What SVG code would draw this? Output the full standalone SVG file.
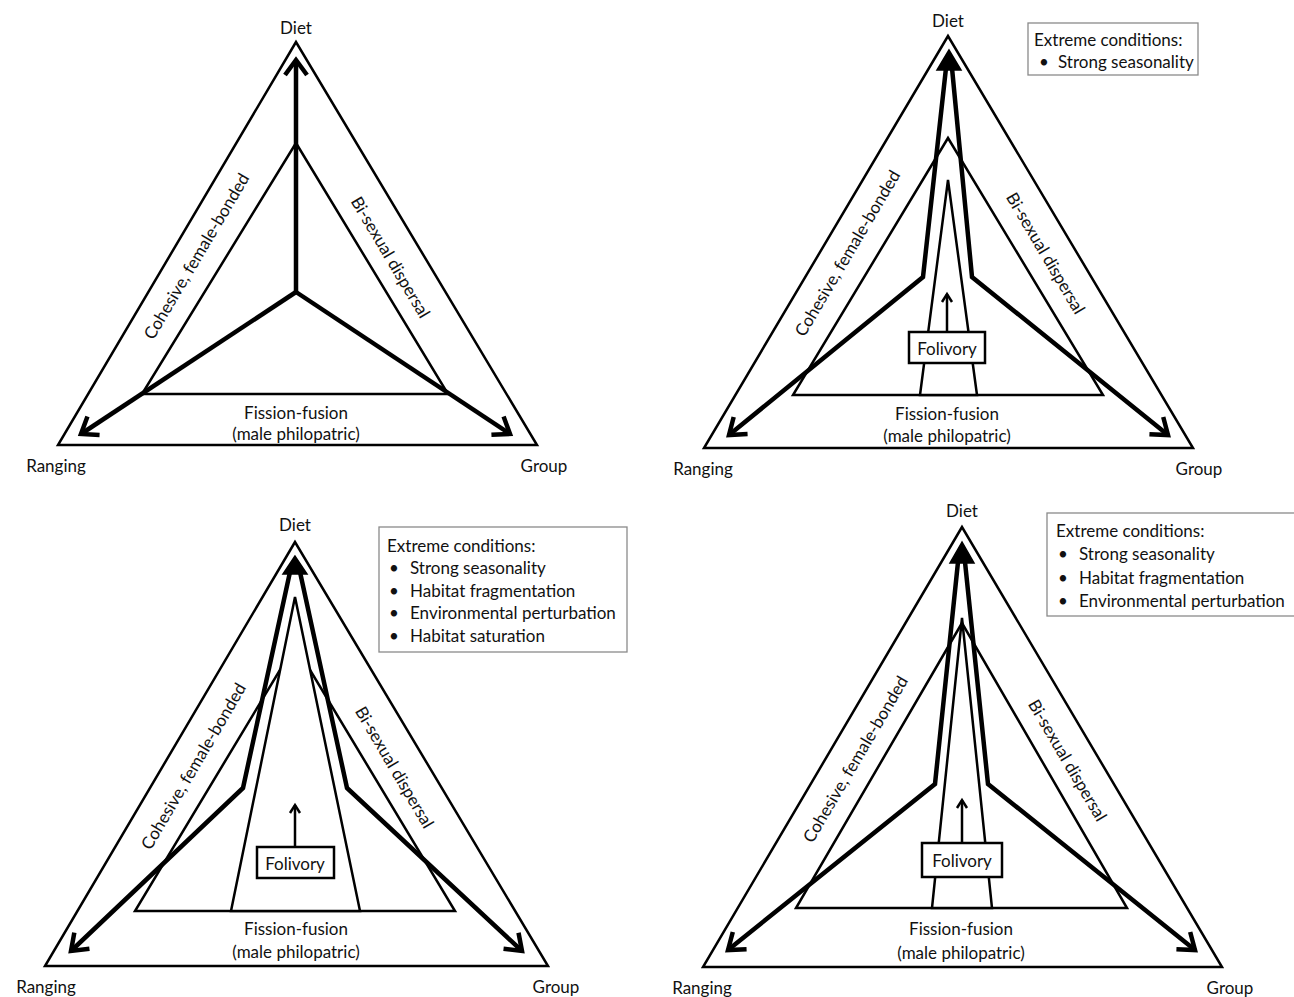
<svg xmlns="http://www.w3.org/2000/svg" width="1294" height="997" viewBox="0 0 1294 997">
<style>
text{font-family:Lato,"Open Sans","Liberation Sans",sans-serif;font-size:17px;fill:#111;}
.c{text-anchor:middle;dominant-baseline:central;}
.l{text-anchor:start;dominant-baseline:central;}
.outer{fill:#fff;stroke:#000;stroke-width:2.5;stroke-linejoin:miter;}
.inner{fill:none;stroke:#000;stroke-width:2.5;}
.narrow{fill:#fff;stroke:#000;stroke-width:2.5;}
.thick{fill:none;stroke:#000;stroke-width:4.5;stroke-linejoin:miter;marker-end:url(#chev);}
.thin{fill:none;stroke:#000;stroke-width:2.5;marker-end:url(#chevs);}
.head{fill:#000;stroke:#000;stroke-width:1.5;stroke-linejoin:miter;}
.box{fill:#fff;stroke:#000;stroke-width:2.5;}
.legend{fill:#fff;stroke:#8a8a8a;stroke-width:1.3;}
</style>
<defs>
<marker id="chev" markerUnits="userSpaceOnUse" viewBox="-20 -15 24 30" markerWidth="24" markerHeight="30" refX="0" refY="0" orient="auto" overflow="visible">
<path d="M-15,-11 L0,0 L-15,11" fill="none" stroke="#000" stroke-width="4.5" stroke-linejoin="miter"/>
</marker>
<marker id="chevs" markerUnits="userSpaceOnUse" viewBox="-12 -8 14 16" markerWidth="14" markerHeight="16" refX="0" refY="0" orient="auto" overflow="visible">
<path d="M-8,-5 L0,0 L-8,5" fill="none" stroke="#000" stroke-width="2.5"/>
</marker>
</defs>
<rect width="1294" height="997" fill="#fff"/>

<!-- Panel 1 -->
<g id="panel1">
<polygon class="outer" points="296,42 58,445 537,445"/>
<polygon class="inner" points="296,143 142,394 448,394"/>
<g id="p1-connectors">
<path class="thick" d="M296,292 L296,60"/>
<path class="thick" d="M296,292 L81,434"/>
<path class="thick" d="M296,292 L510,434"/>
</g>
<text class="c" x="296" y="27">Diet</text>
<text class="c" x="56" y="465">Ranging</text>
<text class="c" x="544" y="465">Group</text>
<text class="c" x="296" y="412">Fission-fusion</text>
<text class="c" x="296" y="433">(male philopatric)</text>
<text class="c" transform="translate(196,256) rotate(-59.3)">Cohesive, female-bonded</text>
<text class="c" transform="translate(391,257) rotate(59.3)">Bi-sexual dispersal</text>
</g>

<!-- Panel 2 -->
<g id="panel2">
<polygon class="outer" points="948,36 704,448 1193,448"/>
<polygon class="inner" points="948,138 793,395 1103,395"/>
<polygon class="narrow" points="948,180 920,395 977,395"/>
<g id="p2-connectors">
<path class="thick" d="M946,68 L923,277 L729,435"/>
<path class="thick" d="M952,68 L972,277 L1168,435"/>
<polygon class="head" points="949,50 937,70 961,70"/>
<path class="thin" d="M947,332 L947,294"/>
</g>
<g id="p2-folivory">
<rect class="box" x="909" y="332" width="76" height="31"/>
<text class="c" x="947" y="348">Folivory</text>
</g>
<g id="p2-legend">
<rect class="legend" x="1028" y="23" width="170" height="52"/>
<text class="l" x="1034" y="39">Extreme conditions:</text>
<text class="l" x="1039" y="61">•</text>
<text class="l" x="1058" y="61">Strong seasonality</text>
</g>
<text class="c" x="948" y="20">Diet</text>
<text class="c" x="703" y="468">Ranging</text>
<text class="c" x="1199" y="468">Group</text>
<text class="c" x="947" y="413">Fission-fusion</text>
<text class="c" x="947" y="435">(male philopatric)</text>
<text class="c" transform="translate(847,253) rotate(-59.4)">Cohesive, female-bonded</text>
<text class="c" transform="translate(1046,253) rotate(59.4)">Bi-sexual dispersal</text>
</g>

<!-- Panel 3 -->
<g id="panel3">
<polygon class="outer" points="295,542 45,966 548,966"/>
<polygon class="inner" points="295,645 135,911 455,911"/>
<polygon class="narrow" points="295,597 231,911 360,911"/>
<g id="p3-connectors">
<path class="thick" d="M290,572 L243,788 L71,951"/>
<path class="thick" d="M300,572 L347,788 L522,951"/>
<polygon class="head" points="295,556 283,574 307,574"/>
<path class="thin" d="M295,847 L295,805"/>
</g>
<g id="p3-folivory">
<rect class="box" x="257" y="847" width="77" height="31"/>
<text class="c" x="295" y="863">Folivory</text>
</g>
<g id="p3-legend">
<rect class="legend" x="379" y="527" width="248" height="125"/>
<text class="l" x="387" y="545">Extreme conditions:</text>
<text class="l" x="389" y="567">•</text>
<text class="l" x="410" y="567">Strong seasonality</text>
<text class="l" x="389" y="590">•</text>
<text class="l" x="410" y="590">Habitat fragmentation</text>
<text class="l" x="389" y="612">•</text>
<text class="l" x="410" y="612">Environmental perturbation</text>
<text class="l" x="389" y="635">•</text>
<text class="l" x="410" y="635">Habitat saturation</text>
</g>
<text class="c" x="295" y="524">Diet</text>
<text class="c" x="46" y="986">Ranging</text>
<text class="c" x="556" y="986">Group</text>
<text class="c" x="296" y="928">Fission-fusion</text>
<text class="c" x="296" y="951">(male philopatric)</text>
<text class="c" transform="translate(193,766) rotate(-59.5)">Cohesive, female-bonded</text>
<text class="c" transform="translate(395,767) rotate(59.5)">Bi-sexual dispersal</text>
</g>

<!-- Panel 4 -->
<g id="panel4">
<polygon class="outer" points="962,527 703,967 1222,967"/>
<polygon class="inner" points="962,623 796,908 1127,908"/>
<polygon class="narrow" points="962,618 932,908 992,908"/>
<g id="p4-connectors">
<path class="thick" d="M958,562 L935,784 L728,950"/>
<path class="thick" d="M965,562 L988,784 L1195,950"/>
<polygon class="head" points="962,542 950,563 974,563"/>
<path class="thin" d="M962,843 L962,800"/>
</g>
<g id="p4-folivory">
<rect class="box" x="922" y="843" width="80" height="34"/>
<text class="c" x="962" y="860">Folivory</text>
</g>
<g id="p4-legend">
<rect class="legend" x="1047" y="513" width="260" height="103"/>
<text class="l" x="1056" y="530">Extreme conditions:</text>
<text class="l" x="1058" y="553">•</text>
<text class="l" x="1079" y="553">Strong seasonality</text>
<text class="l" x="1058" y="577">•</text>
<text class="l" x="1079" y="577">Habitat fragmentation</text>
<text class="l" x="1058" y="600">•</text>
<text class="l" x="1079" y="600">Environmental perturbation</text>
</g>
<text class="c" x="962" y="510">Diet</text>
<text class="c" x="702" y="987">Ranging</text>
<text class="c" x="1230" y="987">Group</text>
<text class="c" x="961" y="928">Fission-fusion</text>
<text class="c" x="961" y="952">(male philopatric)</text>
<text class="c" transform="translate(855,759) rotate(-59.5)">Cohesive, female-bonded</text>
<text class="c" transform="translate(1068,760) rotate(59.5)">Bi-sexual dispersal</text>
</g>
</svg>
